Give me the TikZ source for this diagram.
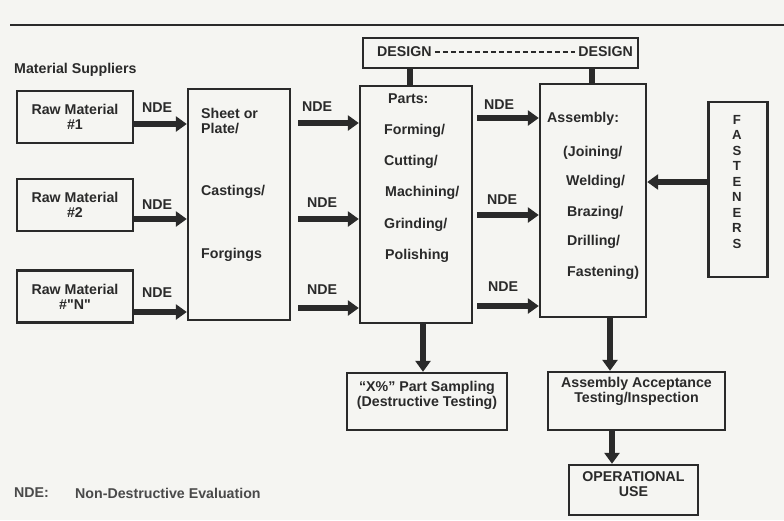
\documentclass[tikz,border=0pt]{standalone}
\usepackage{fontspec}
\setmainfont{Liberation Sans}
\usetikzlibrary{arrows.meta}

\definecolor{ink}{HTML}{2A2A2A}
\definecolor{paper}{HTML}{F5F5F2}

\tikzset{
    box/.style={draw=ink, line width=2.4pt, font=\fontsize{14.2}{15}\selectfont\bfseries, text=ink, align=center},
    txt/.style={font=\fontsize{14.2}{15}\selectfont\bfseries, text=ink, inner sep=0pt},
    key/.style={font=\fontsize{14.2}{15}\selectfont\bfseries, text=ink!85, inner sep=0pt},
    fat/.style={draw=ink, line width=6pt, -{Triangle[length=11pt,width=15pt]}},
    bar/.style={draw=ink, line width=6pt},
}

\begin{document}
\begin{tikzpicture}[x=1pt, y=-1pt]
    \fill[paper] (0,0) rectangle (784,520);
    \useasboundingbox (0,0) rectangle (784,520);
    \draw[ink, line width=2.5pt] (10,25) -- (784,25);

    \node[txt, anchor=west] (suppliers) at (14,70) {Material Suppliers};

    \node[box, minimum width=102, minimum height=231] (sheet) at (239,204.5) {};
    \node[box, minimum width=112, minimum height=237] (parts) at (416,204.5) {};
    \node[box, minimum width=106, minimum height=233] (assembly) at (593,200.5) {};
    \node[box, minimum width=275, minimum height=30] (design) at (500.5,53) {};
    \node[box, minimum width=59, minimum height=175] (fasteners) at (738,189.5) {};
    \node[box, minimum width=160, minimum height=57] (sampling) at (427,401.5) {};
    \node[box, minimum width=177, minimum height=58] (accept) at (636.5,401) {};
    \node[box, minimum width=129, minimum height=50] (opuse) at (633.5,490) {};

    \foreach \i/\y/\n/\ay/\ly in {1/117/1/124/108, 2/205/2/219/205, 3/296.5/{\textquotedbl N\textquotedbl}/312/293} {
        \node[box, minimum width=116, minimum height=52] (rm\i) at (75,\y) {Raw Material\\\#\n};
        \draw[fat] (rm\i.east |- 0,\ay) -- (sheet.west |- 0,\ay);
        \node[txt] (ndea\i) at (157,\ly) {NDE};
    }

    \node[txt, anchor=north west, align=left] (sheetA) at (201,108) {Sheet or\\Plate/};
    \node[txt, anchor=west] (sheetB) at (201,192) {Castings/};
    \node[txt, anchor=west] (sheetC) at (201,255) {Forgings};

    \foreach \i/\ay/\ly/\lx in {1/123/107/317, 2/219/203/322, 3/308/290/322} {
        \draw[fat, shorten <=7pt] (sheet.east |- 0,\ay) -- (parts.west |- 0,\ay);
        \node[txt] (ndeb\i) at (\lx,\ly) {NDE};
    }

    \foreach \i/\ay/\ly/\lx in {1/118/105/499, 2/215/200/502, 3/306/287/503} {
        \draw[fat, shorten <=4pt] (parts.east |- 0,\ay) -- (assembly.west |- 0,\ay);
        \node[txt] (ndec\i) at (\lx,\ly) {NDE};
    }

    \foreach \i/\tx/\ty/\t in {1/388/99/{Parts:}, 2/384/131/{Forming/}, 3/384/162/{Cutting/},
                               4/385/193/{Machining/}, 5/384/225/{Grinding/}, 6/385/256/{Polishing}} {
        \node[txt, anchor=west] (partstxt\i) at (\tx,\ty) {\t};
    }

    \foreach \i/\tx/\ty/\t in {1/547/119/{Assembly:}, 2/563/153/{(Joining/}, 3/566/182/{Welding/},
                               4/567/213/{Brazing/}, 5/567/242/{Drilling/}, 6/567/273/{Fastening)}} {
        \node[txt, anchor=west] (asmtxt\i) at (\tx,\ty) {\t};
    }

    \foreach \l [count=\k] in {F,A,S,T,E,N,E,R,S} {
        \node[txt, font=\fontsize{13.2}{13}\selectfont\bfseries] (fl\k) at (737,{119.5+(\k-1)*15.5}) {\l};
    }
    \draw[fat] (fasteners.west |- 0,182) -- (assembly.east |- 0,182);

    \node[txt, anchor=west] (designL) at (377,52) {DESIGN};
    \node[txt, anchor=east] (designR) at (633,52) {DESIGN};
    \draw[ink, line width=2pt, dash pattern=on 5pt off 3pt, shorten <=3pt, shorten >=3pt] (designL.east) -- (designR.west);
    \draw[bar] (design.south -| 410,0) -- (parts.north -| 410,0);
    \draw[bar] (design.south -| 592,0) -- (assembly.north -| 592,0);

    \draw[fat] (parts.south -| 423,0) -- (sampling.north -| 423,0);
    \draw[fat] (assembly.south -| 610,0) -- (accept.north -| 610,0);
    \draw[fat] (accept.south -| 612,0) -- (opuse.north -| 612,0);

    \node[txt, align=center, anchor=north] (samplingtxt) at ([yshift=-9pt]sampling.north) {``X\%'' Part Sampling\\(Destructive Testing)};
    \node[txt, align=center, anchor=north] (accepttxt) at ([yshift=-6pt]accept.north) {Assembly Acceptance\\Testing/Inspection};
    \node[txt, align=center, anchor=north] (opusetxt) at ([yshift=-8pt]opuse.north) {OPERATIONAL\\USE};

    \node[key, anchor=west] (ndekey) at (14,493) {NDE:};
    \node[key, anchor=west] (ndedef) at (75,493) {Non-Destructive Evaluation};
\end{tikzpicture}
\end{document}
